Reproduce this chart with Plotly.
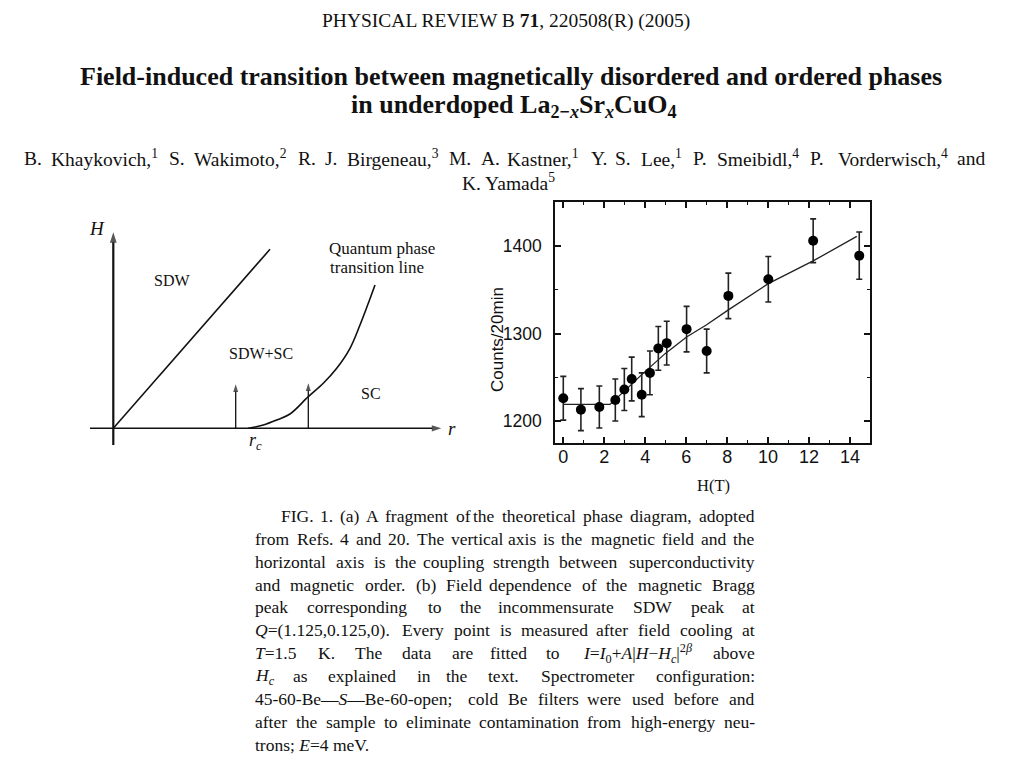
import re
import plotly.graph_objects as go

# The page body has an 8px default margin: the figure is sized to fill the rest of the window
OFF = 8
W, H = 1024 - OFF, 768 - OFF
SERIF = "Liberation Serif"
SANS = "Liberation Sans"

# ---------------- data: panel (b) ----------------
field_T = [0.0, 0.86, 1.76, 2.54, 2.98, 3.34, 3.83, 4.23, 4.64, 5.05, 6.02, 7.0, 8.06, 10.01, 12.2, 14.45]
counts = [1226, 1213, 1216, 1224, 1236, 1248, 1230, 1255, 1283, 1289, 1305, 1280, 1343, 1362, 1406, 1389]
count_err = [25, 24, 24, 24, 24, 25, 25, 25, 25, 25, 26, 25, 26, 26, 25, 27]
fit_T = [0.0, 2.28, 2.5, 2.93, 3.83, 4.97, 6.02, 7.0, 8.06, 10.01, 12.2, 14.33]
fit_counts = [1219, 1219, 1224, 1233, 1253, 1277, 1296, 1310, 1327, 1357, 1383, 1411]
x_ticks = [0, 2, 4, 6, 8, 10, 12, 14]
y_ticks = [1200, 1300, 1400]

# ---------------- data: panel (a) (schematic, arbitrary units) ----------------
sdw_r = [0.0, 1.567]
sdw_H = [0.0, 1.79]
qpt_r = [1.35, 1.5, 1.634, 1.767, 1.95, 2.1, 2.234, 2.367, 2.467, 2.55, 2.617]
qpt_H = [0.0, 0.033, 0.083, 0.143, 0.316, 0.45, 0.6, 0.8, 1.033, 1.25, 1.433]
cool_r = [1.224, 1.95]
cool_top = [0.44, 0.45]
r_axis = [-0.233, 3.28]
H_axis = [-0.167, 1.96]

# ---------------- text ----------------
header = "PHYSICAL REVIEW B <b>71</b>, 220508(R) (2005)"
title1 = "<b>Field-induced transition between magnetically disordered and ordered phases</b>"
title2 = "<b>in underdoped La<sub>2−<i>x</i></sub>Sr<sub><i>x</i></sub>CuO<sub>4</sub></b>"
authors1 = ("B. Khaykovich,<sup>1</sup> S. Wakimoto,<sup>2</sup> R. J. Birgeneau,<sup>3</sup> "
            "M. A. Kastner,<sup>1</sup> Y. S. Lee,<sup>1</sup> P. Smeibidl,<sup>4</sup> "
            "P. Vorderwisch,<sup>4</sup> and")
authors2 = "K. Yamada<sup>5</sup>"
caption_lines = [
    "FIG. 1. (a) A fragment of the theoretical phase diagram, adopted",
    "from Refs. 4 and 20. The vertical axis is the magnetic field and the",
    "horizontal axis is the coupling strength between superconductivity",
    "and magnetic order. (b) Field dependence of the magnetic Bragg",
    "peak corresponding to the incommensurate SDW peak at",
    "<i>Q</i>=(1.125,0.125,0). Every point is measured after field cooling at",
    "<i>T</i>=1.5 K. The data are fitted to <i>I</i>=<i>I</i><sub>0</sub>+<i>A</i>|<i>H</i>−<i>H</i><sub><i>c</i></sub>|<sup>2<i>β</i></sup> above",
    "<i>H</i><sub><i>c</i></sub> as explained in the text. Spectrometer configuration:",
    "45-60-Be—<i>S</i>—Be-60-open; cold Be filters were used before and",
    "after the sample to eliminate contamination from high-energy neu-",
    "trons; <i>E</i>=4 meV.",
]

# Times-Roman advance widths (per 1000 em) for laying out justified lines
TW = {' ': 250, '!': 333, '(': 333, ')': 333, ',': 250, '-': 333, '.': 250, '/': 278, ':': 278,
      ';': 278, '=': 564, '+': 564, '|': 200, '—': 1000, '−': 564, 'β': 550}
for ch in '0123456789':
    TW[ch] = 500
TW.update(dict(zip("ABCDEFGHIJKLMNOPQRSTUVWXYZ",
                   [722, 667, 667, 722, 611, 556, 722, 722, 333, 389, 722, 611, 889, 722, 722,
                    556, 722, 667, 556, 611, 722, 722, 944, 722, 722, 611])))
TW.update(dict(zip("abcdefghijklmnopqrstuvwxyz",
                   [444, 500, 444, 500, 444, 333, 500, 500, 278, 278, 500, 278, 778, 500, 500,
                    500, 500, 333, 389, 278, 500, 500, 722, 500, 500, 444])))


def text_width(s, size):
    total = 0.0
    scale = 1.0
    for part in re.split(r'(<[^>]+>)', s):
        if part.startswith('<'):
            tag = part.strip('<>/').lower()
            if tag in ('sub', 'sup'):
                scale = 1.0 if part.startswith('</') else 0.7
            continue
        for ch in part:
            total += TW.get(ch, 500) * scale
    return total * size / 1000.0 * 1.02


def px(x):
    return (x - OFF) / W


def py(y):
    return 1 - (y - OFF) / H


def ann(text, x, y, size, family=SERIF, xanchor='center', color='#111', **kw):
    d = dict(text=text, x=px(x), y=py(y), xref='paper', yref='paper', showarrow=False,
             xanchor=xanchor, yanchor='middle', font=dict(family=family, size=size, color=color))
    d.update(kw)
    return d


def justified(line, x_left, x_right, y, size):
    """Justify a line: left half laid out from the left margin, right half from the right margin."""
    out = []
    words = line.split(' ')
    n = len(words)
    widths = [text_width(w, size) for w in words]
    gap = max((x_right - x_left - sum(widths)) / (n - 1), 3.0)
    half = (n + 1) // 2
    x = x_left
    for j in range(half):
        out.append(ann(words[j], x, y, size, xanchor='left'))
        x += widths[j] + gap
    x = x_right
    for j in range(n - 1, half - 1, -1):
        out.append(ann(words[j], x, y, size, xanchor='right'))
        x -= widths[j] + gap
    return out


annotations = []
annotations.append(ann(header, 506, 21, 19.5))
annotations.append(ann(title1, 511, 76, 26))
annotations.append(ann(title2, 514, 106, 26))
annotations += justified(authors1, 22, 987, 158, 19.5)
annotations.append(ann(authors2, 508, 182, 19.5))

# caption, justified word by word
CAP_SIZE = 17.5
cap_left, cap_right, cap_indent = 253.3, 757.0, 279.0
for i, line in enumerate(caption_lines):
    y = 516 + i * 22.86
    x0 = cap_indent if i == 0 else cap_left
    if i == len(caption_lines) - 1:
        annotations.append(ann(line, x0, y, CAP_SIZE, xanchor='left'))
    else:
        annotations += justified(line, x0, cap_right, y, CAP_SIZE)

# panel (b) axis titles
annotations.append(ann("Counts/20min", 497, 340, 17, family=SANS, textangle=-90))
annotations.append(ann("H(T)", 713, 486, 16.5))

# panel (a) labels
annotations.append(ann("<i>H</i>", 97, 229, 19))
annotations.append(ann("<i>r</i>", 452, 428, 19))
annotations.append(ann("<i>r</i><sub><i>c</i></sub>", 255, 441, 18))
annotations.append(ann("SDW", 172, 280, 16))
annotations.append(ann("SDW+SC", 261, 353, 16))
annotations.append(ann("SC", 371, 393, 16))
annotations.append(ann("Quantum phase", 382, 248, 17))
annotations.append(ann("transition line", 377, 268, 17))

fig = go.Figure()

# panel (b)
fig.add_trace(go.Scatter(x=fit_T, y=fit_counts, mode='lines', line=dict(color='#222', width=1.3),
                         xaxis='x', yaxis='y', hoverinfo='skip'))
fig.add_trace(go.Scatter(x=field_T, y=counts, mode='markers',
                         marker=dict(color='#000', size=10),
                         error_y=dict(type='data', array=count_err, color='#222', thickness=1.6, width=3),
                         xaxis='x', yaxis='y'))

# panel (a): phase boundaries
fig.add_trace(go.Scatter(x=sdw_r, y=sdw_H, mode='lines', line=dict(color='#111', width=1.6),
                         xaxis='x2', yaxis='y2'))
fig.add_trace(go.Scatter(x=qpt_r, y=qpt_H, mode='lines', line=dict(color='#111', width=1.6, shape='spline'),
                         xaxis='x2', yaxis='y2'))


def arrow_trace(xs, ys, width, head):
    return go.Scatter(x=xs, y=ys, mode='lines+markers', xaxis='x2', yaxis='y2',
                      line=dict(color='#111', width=width),
                      marker=dict(symbol='arrow', size=[0, head], angleref='previous', color='#111',
                                  line=dict(width=0)))


# panel (a): axes and field-cooling paths
fig.add_trace(arrow_trace([0, 0], H_axis, 2.2, 11))
fig.add_trace(arrow_trace(r_axis, [0, 0], 1.5, 10))
for r, top in zip(cool_r, cool_top):
    fig.add_trace(arrow_trace([r, r], [0, top], 1.3, 8))

axis_common = dict(showgrid=False, zeroline=False, showline=True, linecolor='#111', linewidth=1.5,
                   mirror='allticks', ticks='inside', tickcolor='#111', tickwidth=1.5, ticklen=6)

fig.update_layout(
    width=W, height=H,
    margin=dict(l=0, r=0, t=0, b=0),
    paper_bgcolor='white', plot_bgcolor='white',
    showlegend=False,
    xaxis=dict(domain=[px(555), px(870)], range=[-0.405, 14.975], tickvals=x_ticks,
               tickfont=dict(family=SANS, size=18, color='#111'), anchor='y',
               minor=dict(dtick=1, tick0=0, ticks='inside', ticklen=3, tickcolor='#111', tickwidth=1.2),
               ticklabelstandoff=-3, **axis_common),
    yaxis=dict(domain=[py(442.7), py(202.3)], range=[1175.2, 1450], tickvals=y_ticks,
               tickfont=dict(family=SANS, size=17.5, color='#111'), anchor='x',
               minor=dict(dtick=50, tick0=1200, ticks='inside', ticklen=3, tickcolor='#111', tickwidth=1.2),
               ticklabelstandoff=8, **axis_common),
    xaxis2=dict(domain=[px(80), px(470)], range=[-0.333, 3.567], visible=False, anchor='y2'),
    yaxis2=dict(domain=[py(460), py(210)], range=[-0.317, 2.183], visible=False, anchor='x2'),
    annotations=annotations,
)

fig.write_html("out.html")
